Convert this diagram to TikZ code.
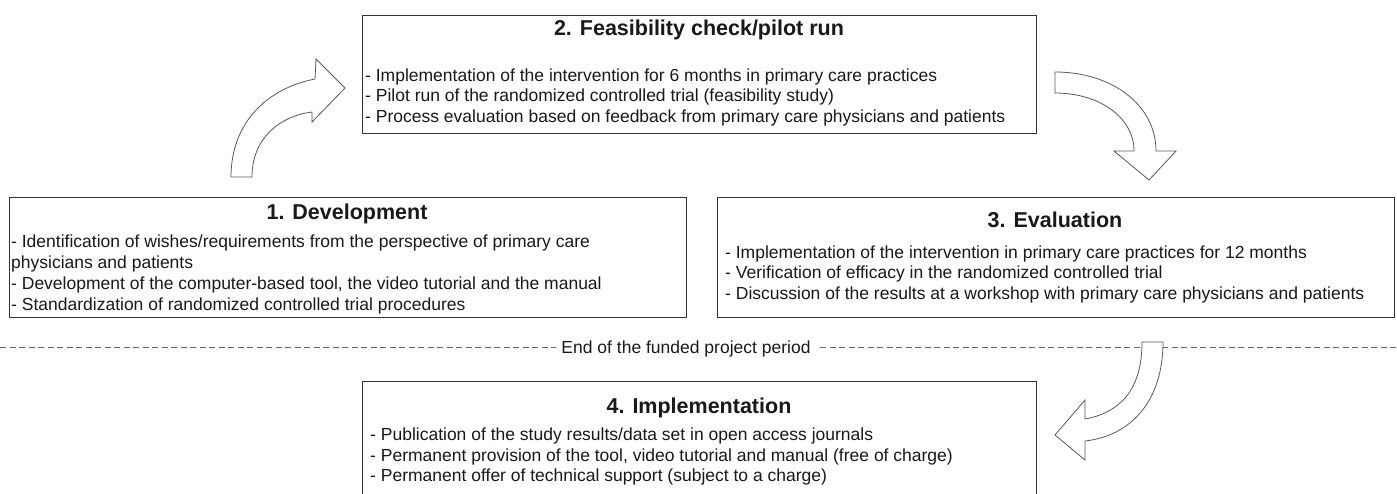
\documentclass[tikz,border=0pt]{standalone}
\usepackage{fontspec}
\setmainfont{Liberation Sans}
\begin{document}
\begin{tikzpicture}[x=1pt,y=-1pt,
  box/.style={draw=black!80,line width=0.9pt,fill=white,inner sep=0pt,anchor=north west},
  ttl/.style={font=\fontsize{21.5}{24}\selectfont\bfseries,anchor=base,inner sep=0pt,text=black!90},
  ln/.style={font=\fontsize{17.5}{20}\selectfont,anchor=base west,inner sep=0pt,text=black!90},
  barrow/.style={draw=black!65,line width=0.8pt,fill=white,line join=miter},
  sep/.style={draw=black!60,line width=0.8pt,dash pattern=on 6pt off 3.5pt}
]
\useasboundingbox (0,0) rectangle (1397,493);
% separator
\draw[sep] (0,347) -- (556,347);
\draw[sep] (820,347) -- (1397,347);
\node[font=\fontsize{17.5}{20}\selectfont,anchor=base,inner sep=0pt,text=black!90] (endtxt) at (686,353) {End of the funded project period};

% box 2
\node[box,minimum width=674pt,minimum height=118pt] (b2) at (362,15) {};
\node[ttl] (b2t) at (699,35) {2. Feasibility check/pilot run};
\node[ln] (b2a) at (365,81) {- Implementation of the intervention for 6 months in primary care practices};
\node[ln] (b2b) at (365,101.5) {- Pilot run of the randomized controlled trial (feasibility study)};
\node[ln] (b2c) at (365,122) {- Process evaluation based on feedback from primary care physicians and patients};

% box 1
\node[box,minimum width=677pt,minimum height=120pt] (b1) at (9,197) {};
\node[ttl] (b1t) at (347,219) {1. Development};
\node[ln] (b1a) at (11,247) {- Identification of wishes/requirements from the perspective of primary care};
\node[ln] (b1b) at (11,268) {physicians and patients};
\node[ln] (b1c) at (11,289.5) {- Development of the computer-based tool, the video tutorial and the manual};
\node[ln] (b1d) at (11,310) {- Standardization of randomized controlled trial procedures};

% box 3
\node[box,minimum width=677pt,minimum height=120pt] (b3) at (717,197) {};
\node[ttl] (b3t) at (1055,227) {3. Evaluation};
\node[ln] (b3a) at (725,258) {- Implementation of the intervention in primary care practices for 12 months};
\node[ln] (b3b) at (725,278.5) {- Verification of efficacy in the randomized controlled trial};
\node[ln] (b3c) at (725,299) {- Discussion of the results at a workshop with primary care physicians and patients};

% box 4
\node[box,minimum width=674pt,minimum height=130pt] (b4) at (362,381) {};
\node[ttl] (b4t) at (699,413) {4. Implementation};
\node[ln] (b4a) at (370,440) {- Publication of the study results/data set in open access journals};
\node[ln] (b4b) at (370,461) {- Permanent provision of the tool, video tutorial and manual (free of charge)};
\node[ln] (b4c) at (370,481) {- Permanent offer of technical support (subject to a charge)};

% arrow 1: development -> feasibility
\draw[barrow] (231,177) .. controls (231,122) and (268,88) .. (315,79)
  -- (316,59) -- (345,88) -- (312,122) -- (312,112)
  .. controls (280,116) and (252,138) .. (252,177) -- cycle;
% arrow 2: feasibility -> evaluation
\draw[barrow] (1055,72) .. controls (1112,72) and (1156,105) .. (1156,151)
  -- (1176,151) -- (1149,180) -- (1114,151) -- (1134,151)
  .. controls (1134,118) and (1100,93) .. (1055,93) -- cycle;
% arrow 3: evaluation -> implementation
\draw[barrow] (1142,342) .. controls (1142,392) and (1118,413) .. (1085,419)
  -- (1085,400) -- (1055,435) -- (1085,460) -- (1085,441)
  .. controls (1130,436) and (1163,402) .. (1163,342) -- cycle;
\end{tikzpicture}
\end{document}
